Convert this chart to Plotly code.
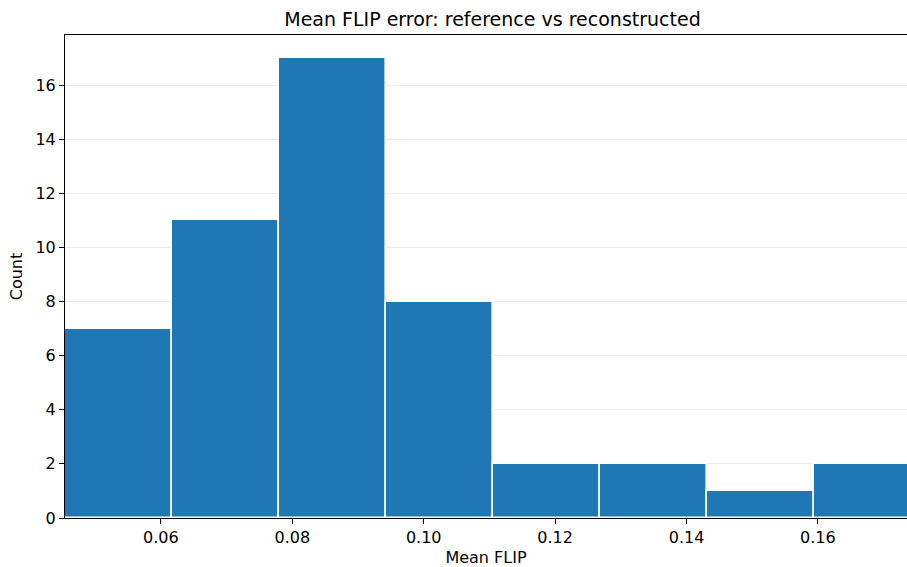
import plotly.graph_objects as go

# Histogram values
bin_edges = [0.0454, 0.0617, 0.0780, 0.0943, 0.1105, 0.1268, 0.1431, 0.1594, 0.1757]
counts = [7, 11, 17, 8, 2, 2, 1, 2]
x_ticks = [0.06, 0.08, 0.10, 0.12, 0.14, 0.16]
y_ticks = [0, 2, 4, 6, 8, 10, 12, 14, 16]

centers = [(a + b) / 2 for a, b in zip(bin_edges[:-1], bin_edges[1:])]
widths = [b - a for a, b in zip(bin_edges[:-1], bin_edges[1:])]

fig = go.Figure(
    go.Bar(
        x=centers,
        y=counts,
        width=widths,
        marker=dict(color="#1f77b4", line=dict(color="white", width=1.6)),
        hoverinfo="x+y",
    )
)

font = "DejaVu Sans"
fig.update_layout(
    width=907,
    height=567,
    margin=dict(l=65, r=0, t=35, b=49),
    paper_bgcolor="white",
    plot_bgcolor="white",
    showlegend=False,
    font=dict(family=font, size=16, color="black"),
    title=dict(
        text="Mean FLIP error: reference vs reconstructed",
        x=492.5 / 907,
        xref="container",
        xanchor="center",
        y=1 - 19 / 567,
        yref="container",
        yanchor="middle",
        font=dict(family=font, size=19, color="black"),
    ),
    bargap=0,
)

fig.update_xaxes(
    range=[0.0454, 0.17356],
    tickvals=x_ticks,
    ticktext=[f"{v:.2f}" for v in x_ticks],
    ticks="outside",
    ticklen=5,
    tickcolor="black",
    showline=True,
    linecolor="black",
    linewidth=1,
    mirror=True,
    showgrid=False,
    zeroline=False,
    title=dict(text="Mean FLIP", font=dict(size=16), standoff=6),
    tickfont=dict(size=16),
)

fig.update_yaxes(
    range=[0, 17.85],
    tickvals=y_ticks,
    ticks="outside",
    ticklen=5,
    tickcolor="black",
    showline=True,
    linecolor="black",
    linewidth=1,
    showgrid=True,
    gridcolor="rgba(190,190,190,0.3)",
    gridwidth=1,
    zeroline=False,
    layer="above traces",
    title=dict(text="Count", font=dict(size=16), standoff=8),
    tickfont=dict(size=16),
)

fig.write_html("out.html")
